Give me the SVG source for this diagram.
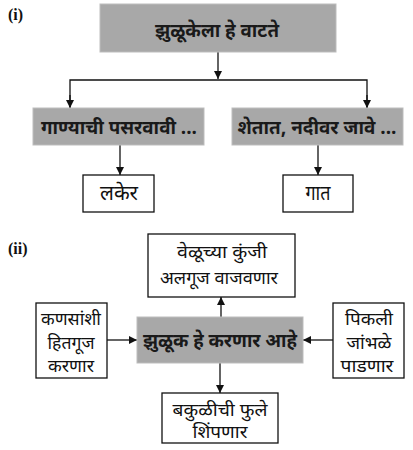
<svg xmlns="http://www.w3.org/2000/svg" width="413" height="450" viewBox="0 0 413 450">
<style>
.g{fill:#a8a8a8;stroke:#bdbdbd;stroke-width:1}
.w{fill:#fff;stroke:#111;stroke-width:1.3}
.t{font-family:"Noto Sans Devanagari","Noto Sans","Lohit Devanagari",sans-serif;font-weight:bold;font-size:19px;fill:#1a1a1a;text-anchor:middle}
.n{font-family:"Noto Sans Devanagari","Noto Sans","Lohit Devanagari",sans-serif;font-size:20px;fill:#111;text-anchor:middle}
.m{font-family:"Noto Sans Devanagari","Noto Sans","Lohit Devanagari",sans-serif;font-size:18px;fill:#111;text-anchor:middle}
.l{font-family:"Liberation Serif",serif;font-weight:bold;font-size:16px;fill:#111}
.c{fill:none;stroke:#111;stroke-width:1.3}
</style>
<defs>
<marker id="a" viewBox="0 0 10 10" refX="10" refY="5" markerWidth="8" markerHeight="8" markerUnits="userSpaceOnUse" orient="auto"><path d="M0,0L10,5L0,10z" fill="#111"/></marker>
</defs>
<rect width="413" height="450" fill="#fff"/>
<text class="l" x="8" y="20">(i)</text>
<text class="l" x="8" y="254">(ii)</text>
<g id="connectors">
<path class="c" d="M218,52V79" marker-end="url(#a)"/>
<path class="c" d="M70,108V80H367V108"/>
<path class="c" d="M70,95V108" marker-end="url(#a)"/>
<path class="c" d="M367,95V108" marker-end="url(#a)"/>
<path class="c" d="M120,145V175" marker-end="url(#a)"/>
<path class="c" d="M318,145V175" marker-end="url(#a)"/>
<path class="c" d="M221,317V297" marker-end="url(#a)"/>
<path class="c" d="M107,340H137" marker-end="url(#a)"/>
<path class="c" d="M333,340H303" marker-end="url(#a)"/>
<path class="c" d="M220,363V393" marker-end="url(#a)"/>
</g>
<g id="n1"><rect class="g" x="100" y="4" width="236" height="48"/><text class="t" x="217" y="37" textLength="124" lengthAdjust="spacingAndGlyphs">झुळूकेला हे वाटते</text></g>
<g id="n2"><rect class="g" x="33" y="108" width="171" height="37"/><text class="t" x="119" y="134" textLength="156" lengthAdjust="spacingAndGlyphs">गाण्याची पसरवावी ...</text></g>
<g id="n3"><rect class="g" x="232" y="108" width="171" height="37"/><text class="t" x="317" y="134" textLength="159" lengthAdjust="spacingAndGlyphs">शेतात, नदीवर जावे ...</text></g>
<g id="n4"><rect class="w" x="83" y="175" width="71" height="37"/><text class="n" x="119" y="200" textLength="38" lengthAdjust="spacingAndGlyphs">लकेर</text></g>
<g id="n5"><rect class="w" x="283" y="175" width="70" height="37"/><text class="n" x="318" y="200" textLength="25" lengthAdjust="spacingAndGlyphs">गात</text></g>
<g id="n6"><rect class="w" x="148" y="234" width="147" height="63"/><text class="m" x="222" y="258" textLength="90" lengthAdjust="spacingAndGlyphs">वेळूच्या कुंजी</text><text class="m" x="219" y="284" textLength="118" lengthAdjust="spacingAndGlyphs">अलगूज वाजवणार</text></g>
<g id="n7"><rect class="g" x="137" y="317" width="166" height="46"/><text class="t" x="220" y="347" textLength="154" lengthAdjust="spacingAndGlyphs">झुळूक हे करणार आहे</text></g>
<g id="n8"><rect class="w" x="36" y="303" width="71" height="75"/><text class="m" x="71" y="325" textLength="60" lengthAdjust="spacingAndGlyphs">कणसांशी</text><text class="m" x="71" y="349" textLength="47" lengthAdjust="spacingAndGlyphs">हितगूज</text><text class="m" x="71" y="372" textLength="46" lengthAdjust="spacingAndGlyphs">करणार</text></g>
<g id="n9"><rect class="w" x="333" y="303" width="71" height="75"/><text class="m" x="369" y="325" textLength="48" lengthAdjust="spacingAndGlyphs">पिकली</text><text class="m" x="369" y="349" textLength="45" lengthAdjust="spacingAndGlyphs">जांभळे</text><text class="m" x="367" y="372" textLength="53" lengthAdjust="spacingAndGlyphs">पाडणार</text></g>
<g id="n10"><rect class="w" x="162" y="393" width="116" height="50"/><text class="m" x="220" y="416" textLength="95" lengthAdjust="spacingAndGlyphs">बकुळीची फुले</text><text class="m" x="220" y="438" textLength="55" lengthAdjust="spacingAndGlyphs">शिंपणार</text></g>
</svg>
